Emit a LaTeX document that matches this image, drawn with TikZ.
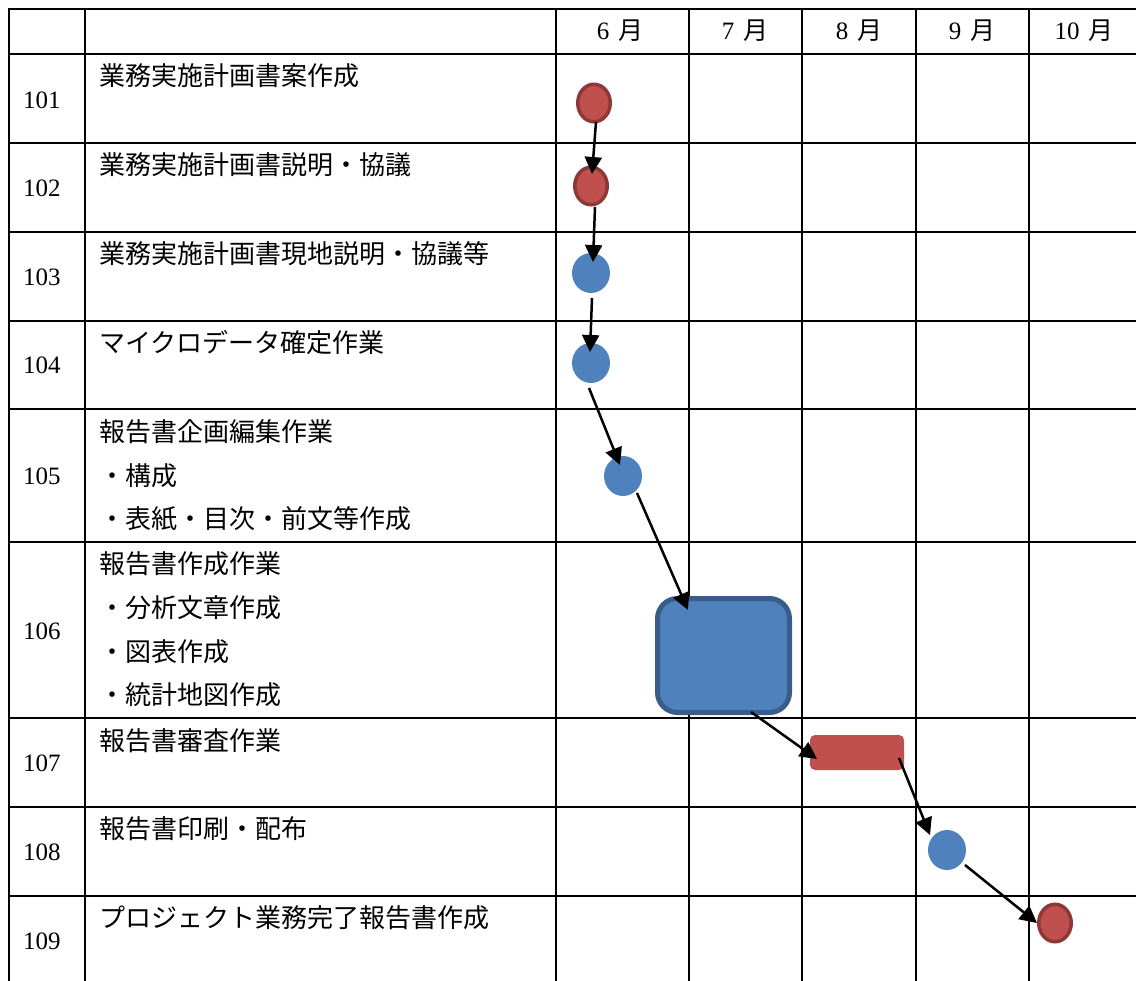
\documentclass[tikz,border=0pt]{standalone}
\usepackage{fontspec}
\newfontfamily\jp{Noto Sans CJK JP}
\newfontfamily\numfont{Liberation Serif}
\usetikzlibrary{arrows.meta,calc,shapes.geometric}
\definecolor{redf}{HTML}{C0504D}
\definecolor{redb}{HTML}{8C3836}
\definecolor{bluef}{HTML}{4F81BD}
\definecolor{blueb}{HTML}{385D8A}
\newcommand{\mon}[1]{#1\hspace{9pt}{\jp 月}}
\begin{document}
\begin{tikzpicture}[x=1pt,y=-1pt,
  gridline/.style={line width=2.6pt},
  task/.style={anchor=west, font=\jp\fontsize{26}{26}\selectfont, inner sep=0pt},
  num/.style={font=\numfont\fontsize{25}{25}\selectfont, inner sep=0pt},
  month/.style={font=\numfont\fontsize{25}{25}\selectfont, inner sep=0pt},
  redms/.style={ellipse, fill=redf, draw=redb, line width=3.5pt, minimum width=32.5pt, minimum height=37.5pt, inner sep=0pt},
  bluems/.style={ellipse, fill=bluef, minimum width=38pt, minimum height=40pt, inner sep=0pt},
  arr/.style={line width=2.5pt, -{Triangle[length=17pt,width=17pt]}}]
\useasboundingbox (0,0) rectangle (1136,981);
% grid
\foreach \yy in {9,54,143,232,321,409,542,718,807,896}
  \draw[gridline] (8,\yy) -- (1136,\yy);
\foreach \xx in {9,85,556,689,802,916,1029}
  \draw[gridline] (\xx,8) -- (\xx,981);
% header
\node[month] (m6) at (620,31) {\mon{6}};
\node[month] (m7) at (745,31) {\mon{7}};
\node[month] (m8) at (859,31) {\mon{8}};
\node[month] (m9) at (972,31) {\mon{9}};
\node[month] (m10) at (1084,31) {\mon{10}};
% numbers
\node[num] (r101) at (42,100) {101};
\node[num] (r102) at (42,188) {102};
\node[num] (r103) at (42,277) {103};
\node[num] (r104) at (42,365) {104};
\node[num] (r105) at (42,476) {105};
\node[num] (r106) at (42,631) {106};
\node[num] (r107) at (42,763) {107};
\node[num] (r108) at (42,852) {108};
\node[num] (r109) at (42,941) {109};
% tasks
\node[task] (t101) at (99,76) {業務実施計画書案作成};
\node[task] (t102) at (99,165) {業務実施計画書説明・協議};
\node[task] (t103) at (99,254) {業務実施計画書現地説明・協議等};
\node[task] (t104) at (99,343) {マイクロデータ確定作業};
\node[task] (t105a) at (99,432) {報告書企画編集作業};
\node[task] (t105b) at (99,476) {・構成};
\node[task] (t105c) at (99,519) {・表紙・目次・前文等作成};
\node[task] (t106a) at (99,564) {報告書作成作業};
\node[task] (t106b) at (99,608) {・分析文章作成};
\node[task] (t106c) at (99,652) {・図表作成};
\node[task] (t106d) at (99,695) {・統計地図作成};
\node[task] (t107) at (99,741) {報告書審査作業};
\node[task] (t108) at (99,829) {報告書印刷・配布};
\node[task] (t109) at (99,918) {プロジェクト業務完了報告書作成};
% milestones / bars
\node[redms] (n101) at (594,103) {};
\node[redms] (n102) at (591,186) {};
\node[bluems] (n103) at (591,273) {};
\node[bluems] (n104) at (591,363) {};
\node[bluems] (n105) at (623,476) {};
\node[rectangle, rounded corners=20pt, fill=bluef, draw=blueb, line width=5pt,
      minimum width=132pt, minimum height=114pt, inner sep=0pt] (n106) at (723.5,655.5) {};
\node[rectangle, rounded corners=5pt, fill=redf, minimum width=94pt, minimum height=35pt,
      inner sep=0pt] (n107) at (857,752.5) {};
\node[bluems] (n108) at (947,850) {};
\node[redms] (n109) at (1055,923) {};
% arrows
\draw[arr] ($(n101)+(2,19)$) -- ($(n102)+(1,-12)$);
\draw[arr] ($(n102)+(4,21)$) -- ($(n103)+(2,-11)$);
\draw[arr] ($(n103)+(1,25)$) -- ($(n104)+(-1,-11)$);
\draw[arr] ($(n104)+(-2,25)$) -- ($(n105)+(-3,-11)$);
\draw[arr] ($(n105)+(14,17)$) -- ($(n106)+(-35.5,-45.5)$);
\draw[arr] ($(n106)+(27.5,56.5)$) -- ($(n107)+(-40,6.5)$);
\draw[arr] ($(n107)+(42,5.5)$) -- ($(n108)+(-17,-15)$);
\draw[arr] ($(n108)+(18,15)$) -- ($(n109)+(-18,0)$);
\end{tikzpicture}
\end{document}
